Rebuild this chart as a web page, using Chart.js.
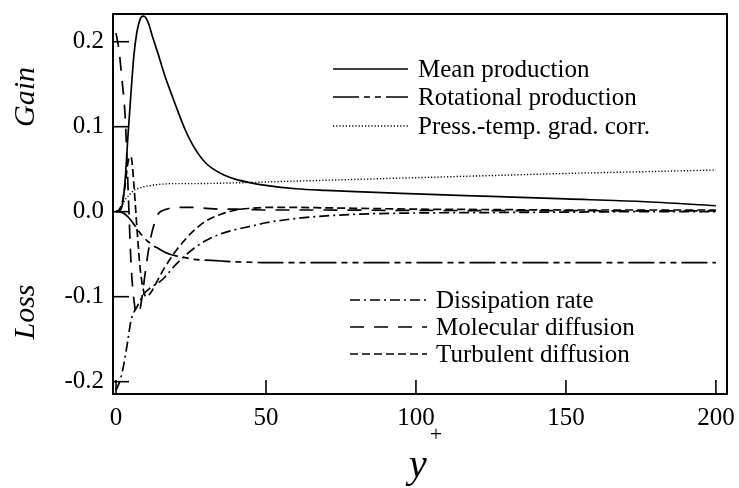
<!DOCTYPE html>
<html>
<head>
<meta charset="utf-8">
<script src="https://cdn.jsdelivr.net/npm/chart.js@4.4.1/dist/chart.umd.min.js"></script>
<style>
  html, body { margin: 0; padding: 0; background: #fff; }
  #wrap { width: 739px; height: 488px; }
</style>
</head>
<body>
<div id="wrap"><canvas id="budget"></canvas></div>
<script>
// wall distance y+ (shared by all curves)
var yPlus = [0, 1, 2, 3, 4, 5, 6, 7, 8, 9, 10, 11, 12, 14, 16, 18, 20, 23, 26, 30, 35, 40, 45, 50, 60, 70, 80, 100, 125, 150, 175, 200];

var meanProduction = [0, 0.001, 0.006, 0.035, 0.09, 0.14, 0.185, 0.212, 0.226, 0.23, 0.228, 0.22, 0.208, 0.186, 0.163, 0.143, 0.124, 0.097, 0.076, 0.057, 0.045, 0.038, 0.034, 0.031, 0.027, 0.025, 0.0235, 0.021, 0.018, 0.015, 0.012, 0.007];
var rotationalProduction = [0, 0, -0.001, -0.003, -0.006, -0.01, -0.015, -0.02, -0.025, -0.029, -0.033, -0.036, -0.039, -0.043, -0.047, -0.05, -0.052, -0.054, -0.056, -0.057, -0.058, -0.059, -0.0595, -0.06, -0.06, -0.06, -0.06, -0.06, -0.06, -0.06, -0.06, -0.06];
var pressTempCorr = [0, 0.002, 0.007, 0.014, 0.018, 0.022, 0.025, 0.027, 0.028, 0.029, 0.030, 0.0305, 0.031, 0.032, 0.0325, 0.033, 0.033, 0.033, 0.033, 0.0332, 0.0335, 0.034, 0.0343, 0.035, 0.036, 0.037, 0.038, 0.040, 0.0425, 0.045, 0.047, 0.049];
var dissipationRate = [-0.21, -0.202, -0.19, -0.172, -0.15, -0.128, -0.118, -0.112, -0.105, -0.098, -0.094, -0.091, -0.088, -0.084, -0.078, -0.07, -0.062, -0.052, -0.043, -0.034, -0.026, -0.021, -0.017, -0.013, -0.008, -0.005, -0.003, -0.0015, -0.001, -0.0005, 0, 0];
var molecularDiffusion = [0.21, 0.19, 0.155, 0.115, 0.03, -0.06, -0.105, -0.12, -0.115, -0.092, -0.065, -0.042, -0.024, -0.003, 0.002, 0.004, 0.005, 0.005, 0.005, 0.004, 0.003, 0.003, 0.0025, 0.002, 0.002, 0.002, 0.0018, 0.0015, 0.0013, 0.0012, 0.001, 0.001];
var turbulentDiffusion = [0, 0.002, 0.01, 0.03, 0.058, 0.065, 0.03, -0.02, -0.065, -0.09, -0.1, -0.098, -0.093, -0.08, -0.067, -0.056, -0.046, -0.033, -0.022, -0.011, -0.003, 0.002, 0.004, 0.005, 0.005, 0.0045, 0.004, 0.003, 0.0025, 0.002, 0.002, 0.002];

var xTicks = [0, 50, 100, 150, 200];
var yTicks = [-0.2, -0.1, 0.0, 0.1, 0.2];

function pts(vals) {
  return yPlus.map(function(x, i) { return {x: x, y: vals[i]}; });
}

var serif = '"Liberation Serif", "Times New Roman", serif';

function line(label, vals, dash, width) {
  return {
    label: label,
    data: pts(vals),
    borderColor: '#000',
    borderWidth: width || 1.7,
    borderDash: dash,
    pointRadius: 0,
    fill: false,
    cubicInterpolationMode: 'monotone'
  };
}

var datasets = [
  line('Mean production', meanProduction, []),
  line('Rotational production', rotationalProduction, [26, 5, 6, 5, 6, 5]),
  line('Press.-temp. grad. corr.', pressTempCorr, [1.2, 2], 1.4),
  line('Dissipation rate', dissipationRate, [10, 4, 2, 4]),
  line('Molecular diffusion', molecularDiffusion, [14, 10]),
  line('Turbulent diffusion', turbulentDiffusion, [8, 4])
];

// frame, inward ticks, legends and axis titles
var decor = {
  id: 'decor',
  afterDatasetsDraw: function(chart) {
    var ctx = chart.ctx, a = chart.chartArea;
    var xs = chart.scales.x, ys = chart.scales.y;
    ctx.save();
    ctx.strokeStyle = '#000';
    ctx.setLineDash([]);
    ctx.lineWidth = 1.6;
    xTicks.forEach(function(v) {
      var px = xs.getPixelForValue(v);
      ctx.beginPath(); ctx.moveTo(px, a.bottom); ctx.lineTo(px, a.bottom - 14); ctx.stroke();
    });
    yTicks.forEach(function(v) {
      var py = ys.getPixelForValue(v);
      ctx.beginPath(); ctx.moveTo(a.left, py); ctx.lineTo(a.left + 16, py); ctx.stroke();
    });
    ctx.lineWidth = 2;
    ctx.strokeRect(a.left, a.top, a.right - a.left, a.bottom - a.top);

    // legends
    ctx.font = '25px ' + serif;
    ctx.fillStyle = '#000';
    ctx.textBaseline = 'middle';
    var groups = [
      {x0: 333, x1: 408, tx: 418, rows: [69, 97, 126], idx: [0, 1, 2]},
      {x0: 350, x1: 427, tx: 436, rows: [300, 327, 354], idx: [3, 4, 5]}
    ];
    groups.forEach(function(g) {
      g.idx.forEach(function(di, k) {
        var ds = chart.data.datasets[di];
        ctx.lineWidth = ds.borderWidth;
        ctx.setLineDash(ds.borderDash);
        ctx.beginPath(); ctx.moveTo(g.x0, g.rows[k]); ctx.lineTo(g.x1, g.rows[k]); ctx.stroke();
        ctx.setLineDash([]);
        ctx.fillText(ds.label, g.tx, g.rows[k] + 1);
      });
    });

    // axis titles
    ctx.font = 'italic 30px ' + serif;
    ctx.textAlign = 'center';
    [['Gain', 97], ['Loss', 312]].forEach(function(t) {
      ctx.save();
      ctx.translate(26, t[1]);
      ctx.rotate(-Math.PI / 2);
      ctx.fillText(t[0], 0, 0);
      ctx.restore();
    });
    ctx.textBaseline = 'alphabetic';
    ctx.font = 'italic 40px ' + serif;
    ctx.fillText('y', 418, 477);
    ctx.font = '22px ' + serif;
    ctx.fillText('+', 436, 441);
    ctx.restore();
  }
};

new Chart(document.getElementById('budget'), {
  type: 'line',
  data: { datasets: datasets },
  options: {
    responsive: true,
    maintainAspectRatio: false,
    animation: false,
    layout: { padding: { top: 14, right: 12, left: 0, bottom: 0 } },
    plugins: { legend: { display: false }, tooltip: { enabled: false } },
    scales: {
      x: {
        type: 'linear',
        min: -1,
        max: 203.7,
        grid: { display: false, drawTicks: false },
        border: { display: false },
        afterBuildTicks: function(s) { s.ticks = xTicks.map(function(v) { return {value: v}; }); },
        afterFit: function(s) { s.height = 94; s.paddingLeft = 0; s.paddingRight = 0; },
        ticks: {
          color: '#000',
          padding: 9,
          maxRotation: 0,
          font: { family: serif, size: 25 },
          callback: function(v) { return String(v); }
        }
      },
      y: {
        type: 'linear',
        min: -0.2145,
        max: 0.2326,
        grid: { display: false, drawTicks: false },
        border: { display: false },
        afterBuildTicks: function(s) { s.ticks = yTicks.map(function(v) { return {value: v}; }); },
        afterFit: function(s) { s.width = 113; s.paddingTop = 0; s.paddingBottom = 0; },
        ticks: {
          color: '#000',
          padding: 9,
          font: { family: serif, size: 25 },
          callback: function(v) { return (Math.round(v * 10) / 10).toFixed(1); }
        }
      }
    }
  },
  plugins: [decor]
});
</script>
</body>
</html>
